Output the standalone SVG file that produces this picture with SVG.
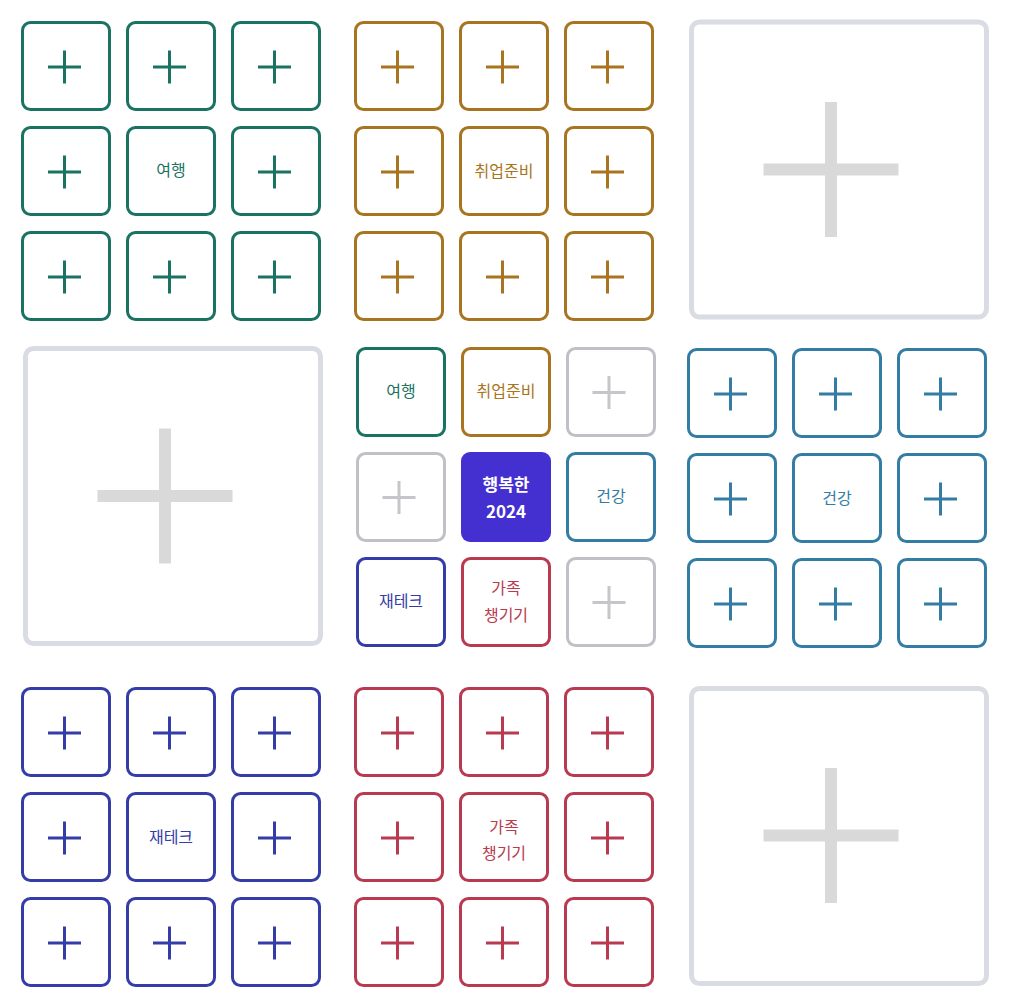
<svg xmlns="http://www.w3.org/2000/svg" xmlns:xlink="http://www.w3.org/1999/xlink" width="1011" height="1005" viewBox="0 0 1011 1005">
<style>
.b rect{fill:#fff;stroke:currentColor;stroke-width:3}
.big rect{fill:#fff;stroke:#d9dce2;stroke-width:5}
.t{font-family:"Noto Sans CJK KR","Noto Sans",sans-serif;font-size:16px;fill:currentColor;text-anchor:middle}
.tw{font-family:"Noto Sans CJK KR","Noto Sans",sans-serif;font-size:17px;font-weight:700;fill:#fff;text-anchor:middle}
.g{color:#1a7262}.o{color:#a97420}.c{color:#337ca3}.n{color:#343ca8}.r{color:#b93a50}.x{color:#c0c1c6}
.x use{color:#c6c6ca}
</style>
<defs>
<path id="p" d="M-16.5 0H16.5M0 -16.5V16.5" fill="none" stroke="currentColor" stroke-width="3"/>
<path id="P" d="M-67.5 0H67.5M0 -67.5V67.5" fill="none" stroke="#d9d9d9" stroke-width="12"/>
</defs>
<g id="connectors"/>
<!-- green block -->
<g class="b g">
<g id="g1"><rect x="22.5" y="22.5" width="87" height="87" rx="8"/><use href="#p" x="64.5" y="67"/></g>
<g id="g2"><rect x="127.5" y="22.5" width="87" height="87" rx="8"/><use href="#p" x="169.5" y="67"/></g>
<g id="g3"><rect x="232.5" y="22.5" width="87" height="87" rx="8"/><use href="#p" x="274.5" y="67"/></g>
<g id="g4"><rect x="22.5" y="127.5" width="87" height="87" rx="8"/><use href="#p" x="64.5" y="172"/></g>
<g id="g5"><rect x="127.5" y="127.5" width="87" height="87" rx="8"/><text class="t" x="171" y="176">여행</text></g>
<g id="g6"><rect x="232.5" y="127.5" width="87" height="87" rx="8"/><use href="#p" x="274.5" y="172"/></g>
<g id="g7"><rect x="22.5" y="232.5" width="87" height="87" rx="8"/><use href="#p" x="64.5" y="277"/></g>
<g id="g8"><rect x="127.5" y="232.5" width="87" height="87" rx="8"/><use href="#p" x="169.5" y="277"/></g>
<g id="g9"><rect x="232.5" y="232.5" width="87" height="87" rx="8"/><use href="#p" x="274.5" y="277"/></g>
</g>
<!-- gold block -->
<g class="b o">
<g id="o1"><rect x="355.5" y="22.5" width="87" height="87" rx="8"/><use href="#p" x="397.5" y="67"/></g>
<g id="o2"><rect x="460.5" y="22.5" width="87" height="87" rx="8"/><use href="#p" x="502.5" y="67"/></g>
<g id="o3"><rect x="565.5" y="22.5" width="87" height="87" rx="8"/><use href="#p" x="607.5" y="67"/></g>
<g id="o4"><rect x="355.5" y="127.5" width="87" height="87" rx="8"/><use href="#p" x="397.5" y="172"/></g>
<g id="o5"><rect x="460.5" y="127.5" width="87" height="87" rx="8"/><text class="t" x="504" y="177">취업준비</text></g>
<g id="o6"><rect x="565.5" y="127.5" width="87" height="87" rx="8"/><use href="#p" x="607.5" y="172"/></g>
<g id="o7"><rect x="355.5" y="232.5" width="87" height="87" rx="8"/><use href="#p" x="397.5" y="277"/></g>
<g id="o8"><rect x="460.5" y="232.5" width="87" height="87" rx="8"/><use href="#p" x="502.5" y="277"/></g>
<g id="o9"><rect x="565.5" y="232.5" width="87" height="87" rx="8"/><use href="#p" x="607.5" y="277"/></g>
</g>
<!-- big boxes -->
<g id="bigTR" class="big"><rect x="691.5" y="22" width="295" height="295" rx="8"/><use href="#P" x="831" y="169.5"/></g>
<g id="bigML" class="big"><rect x="25.5" y="348.5" width="295" height="295" rx="8"/><use href="#P" x="165" y="496"/></g>
<g id="bigBR" class="big"><rect x="691.5" y="688.5" width="295" height="295" rx="8"/><use href="#P" x="831" y="835.5"/></g>
<!-- center block -->
<g class="b">
<g id="c1" class="g"><rect x="357.5" y="348.5" width="87" height="87" rx="8"/><text class="t" x="401" y="397">여행</text></g>
<g id="c2" class="o"><rect x="462.5" y="348.5" width="87" height="87" rx="8"/><text class="t" x="506" y="397">취업준비</text></g>
<g id="c3" class="x"><rect x="567.5" y="348.5" width="87" height="87" rx="8"/><use href="#p" x="609" y="392.5"/></g>
<g id="c4" class="x"><rect x="357.5" y="453.5" width="87" height="87" rx="8"/><use href="#p" x="399" y="497.5"/></g>
<g id="c5"><rect x="461" y="452" width="90" height="90" rx="9" style="fill:#4430d0;stroke:none"/><text class="tw" x="506" y="491">행복한</text><text class="tw" x="506" y="518">2024</text></g>
<g id="c6" class="c"><rect x="567.5" y="453.5" width="87" height="87" rx="8"/><text class="t" x="611" y="502">건강</text></g>
<g id="c7" class="n"><rect x="357.5" y="558.5" width="87" height="87" rx="8"/><text class="t" x="401" y="607">재테크</text></g>
<g id="c8" class="r"><rect x="462.5" y="558.5" width="87" height="87" rx="8"/><text class="t" x="506" y="594">가족</text><text class="t" x="506" y="621">챙기기</text></g>
<g id="c9" class="x"><rect x="567.5" y="558.5" width="87" height="87" rx="8"/><use href="#p" x="609" y="602.5"/></g>
</g>
<!-- blue block -->
<g class="b c">
<g id="h1"><rect x="688.5" y="349.5" width="87" height="87" rx="8"/><use href="#p" x="730.5" y="394"/></g>
<g id="h2"><rect x="793.5" y="349.5" width="87" height="87" rx="8"/><use href="#p" x="835.5" y="394"/></g>
<g id="h3"><rect x="898.5" y="349.5" width="87" height="87" rx="8"/><use href="#p" x="940.5" y="394"/></g>
<g id="h4"><rect x="688.5" y="454.5" width="87" height="87" rx="8"/><use href="#p" x="730.5" y="499"/></g>
<g id="h5"><rect x="793.5" y="454.5" width="87" height="87" rx="8"/><text class="t" x="837" y="504">건강</text></g>
<g id="h6"><rect x="898.5" y="454.5" width="87" height="87" rx="8"/><use href="#p" x="940.5" y="499"/></g>
<g id="h7"><rect x="688.5" y="559.5" width="87" height="87" rx="8"/><use href="#p" x="730.5" y="604"/></g>
<g id="h8"><rect x="793.5" y="559.5" width="87" height="87" rx="8"/><use href="#p" x="835.5" y="604"/></g>
<g id="h9"><rect x="898.5" y="559.5" width="87" height="87" rx="8"/><use href="#p" x="940.5" y="604"/></g>
</g>
<!-- indigo block -->
<g class="b n">
<g id="n1"><rect x="22.5" y="688.5" width="87" height="87" rx="8"/><use href="#p" x="64.5" y="733"/></g>
<g id="n2"><rect x="127.5" y="688.5" width="87" height="87" rx="8"/><use href="#p" x="169.5" y="733"/></g>
<g id="n3"><rect x="232.5" y="688.5" width="87" height="87" rx="8"/><use href="#p" x="274.5" y="733"/></g>
<g id="n4"><rect x="22.5" y="793.5" width="87" height="87" rx="8"/><use href="#p" x="64.5" y="838"/></g>
<g id="n5"><rect x="127.5" y="793.5" width="87" height="87" rx="8"/><text class="t" x="171" y="842.5">재테크</text></g>
<g id="n6"><rect x="232.5" y="793.5" width="87" height="87" rx="8"/><use href="#p" x="274.5" y="838"/></g>
<g id="n7"><rect x="22.5" y="898.5" width="87" height="87" rx="8"/><use href="#p" x="64.5" y="943"/></g>
<g id="n8"><rect x="127.5" y="898.5" width="87" height="87" rx="8"/><use href="#p" x="169.5" y="943"/></g>
<g id="n9"><rect x="232.5" y="898.5" width="87" height="87" rx="8"/><use href="#p" x="274.5" y="943"/></g>
</g>
<!-- red block -->
<g class="b r">
<g id="r1"><rect x="355.5" y="688.5" width="87" height="87" rx="8"/><use href="#p" x="397.5" y="733"/></g>
<g id="r2"><rect x="460.5" y="688.5" width="87" height="87" rx="8"/><use href="#p" x="502.5" y="733"/></g>
<g id="r3"><rect x="565.5" y="688.5" width="87" height="87" rx="8"/><use href="#p" x="607.5" y="733"/></g>
<g id="r4"><rect x="355.5" y="793.5" width="87" height="87" rx="8"/><use href="#p" x="397.5" y="838"/></g>
<g id="r5"><rect x="460.5" y="793.5" width="87" height="87" rx="8"/><text class="t" x="504" y="832.5">가족</text><text class="t" x="504" y="858.5">챙기기</text></g>
<g id="r6"><rect x="565.5" y="793.5" width="87" height="87" rx="8"/><use href="#p" x="607.5" y="838"/></g>
<g id="r7"><rect x="355.5" y="898.5" width="87" height="87" rx="8"/><use href="#p" x="397.5" y="943"/></g>
<g id="r8"><rect x="460.5" y="898.5" width="87" height="87" rx="8"/><use href="#p" x="502.5" y="943"/></g>
<g id="r9"><rect x="565.5" y="898.5" width="87" height="87" rx="8"/><use href="#p" x="607.5" y="943"/></g>
</g>
</svg>
